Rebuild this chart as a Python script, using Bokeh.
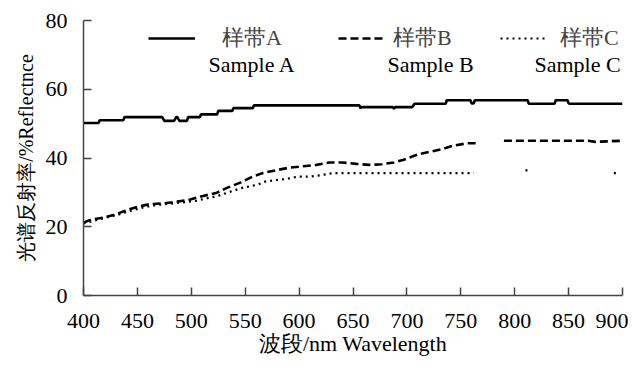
from bokeh.plotting import figure
from bokeh.models import Legend, LegendItem, Label, FixedTicker
from bokeh.embed import file_html
from bokeh.resources import INLINE

nan = float("nan")

# Sample A (solid)
wl_a = [400, 414, 415, 437, 438, 473, 475, 484, 486, 487, 489, 490, 496, 497,
        508, 509, 524, 525, 538, 539, 557, 558, 656, 657, 658, 687, 688, 689,
        705, 707, 736, 737, 759, 760, 762, 763, 812, 813, 837, 838, 849, 850,
        851, 900]
ref_a = [50.2, 50.2, 51.0, 51.0, 51.9, 51.9, 50.8, 50.8, 51.9, 51.9, 50.8, 50.8,
         50.8, 51.9, 51.9, 52.7, 52.7, 53.7, 53.7, 54.5, 54.5, 55.3, 55.3, 54.5,
         54.8, 54.8, 54.3, 54.8, 54.8, 55.8, 55.8, 56.8, 56.8, 55.9, 55.9, 56.8,
         56.8, 55.8, 55.8, 56.8, 56.8, 55.9, 55.8, 55.8]

# Sample B (dashed)
wl_b = [400, 407, 419, 428, 439, 450, 462, 474, 487, 499, 510, 523, 533, 546,
        557, 566, 578, 591, 604, 616, 628, 640, 653, 665, 677, 688, 697, 711,
        721, 732, 742, 756, 766, nan, 790, 868, 875, 898]
ref_b = [21.2, 22.1, 22.7, 23.4, 24.7, 25.8, 26.6, 26.8, 27.3, 27.9, 28.9, 29.8,
         31.3, 32.9, 34.6, 35.6, 36.4, 37.2, 37.6, 38.0, 38.7, 38.7, 38.3, 38.0,
         38.2, 38.7, 39.5, 41.1, 41.8, 42.5, 43.5, 44.3, 44.3, nan, 45.0, 45.0,
         44.7, 45.0]

# Sample C (dotted)
wl_c = [400, 410, 420, 432, 443, 455, 467, 480, 492, 505, 516, 524, 539, 547,
        561, 569, 588, 599, 610, 620, 631, 637, 657, 700, 731, 762, nan, 810,
        814, nan, 892, 896]
ref_c = [21.0, 21.8, 22.6, 23.5, 24.6, 25.6, 26.3, 26.7, 27.1, 27.6, 28.4, 28.9,
         30.5, 31.3, 32.2, 33.2, 33.9, 34.6, 34.6, 35.0, 35.6, 35.6, 35.6, 35.6,
         35.6, 35.6, nan, 36.4, 36.4, nan, 35.6, 35.6]

x_ticks = [400, 450, 500, 550, 600, 650, 700, 750, 800, 850, 900]
y_ticks = [0, 20, 40, 60, 80]

names_cn = ["样带A", "样带B", "样带C"]
names_en = ["Sample A", "Sample B", "Sample C"]

FONT = "Liberation Serif"

p = figure(width=628, height=358, output_backend="svg", toolbar_location=None,
           x_range=(400, 900), y_range=(0, 80),
           min_border_left=83, min_border_right=6, min_border_top=20,
           min_border_bottom=62)
p.outline_line_color = None
p.xgrid.visible = False
p.ygrid.visible = False
p.background_fill_color = "white"

ra = p.line(wl_a, ref_a, line_color="black", line_width=2.6)
rb = p.line(wl_b, ref_b, line_color="black", line_width=2.6, line_dash="8 4")
rc = p.line(wl_c, ref_c, line_color="black", line_width=2.2, line_dash="2 4")

for ax in (p.xaxis[0], p.yaxis[0]):
    ax.axis_line_color = "#444444"
    ax.axis_line_width = 1.5
    ax.major_tick_line_color = "#444444"
    ax.major_tick_line_width = 1.5
    ax.major_tick_in = 8
    ax.major_tick_out = 0
    ax.minor_tick_line_color = None
    ax.major_label_text_font = FONT
    ax.major_label_text_font_size = "22px"
    ax.major_label_text_color = "black"
    ax.axis_label_text_font = FONT
    ax.axis_label_text_font_style = "normal"
    ax.axis_label_text_color = "black"

p.xaxis.axis_label_text_font_size = "22px"
p.yaxis.axis_label_text_font_size = "20px"
p.xaxis.ticker = FixedTicker(ticks=x_ticks)
p.yaxis.ticker = FixedTicker(ticks=y_ticks)
p.xaxis.major_label_standoff = 18
p.yaxis.major_label_standoff = 16
p.xaxis.axis_label = "波段/nm Wavelength"
p.yaxis.axis_label = "光谱反射率/%Reflectnce"
p.xaxis.axis_label_standoff = 0
p.yaxis.axis_label_standoff = 6

legend_specs = [
    (ra, names_cn[0], 65, 47, 27),
    (rb, names_cn[1], 255, 47, 8),
    (rc, names_cn[2], 417, 45, 15),
]
for r, lab, lx, gw, so in legend_specs:
    leg = Legend(items=[LegendItem(label=lab, renderers=[r])], location=(lx, 242),
                 orientation="horizontal", glyph_width=gw, glyph_height=20,
                 label_standoff=so, padding=0, margin=0, spacing=0,
                 border_line_alpha=0, background_fill_alpha=0,
                 label_text_font=FONT, label_text_font_size="22px",
                 label_height=20)
    p.add_layout(leg)

for lab, lx in zip(names_en, [125, 304, 451]):
    p.add_layout(Label(x=lx, y=231, x_units="screen", y_units="screen", text=lab,
                       text_baseline="middle", text_font=FONT,
                       text_font_size="22px", text_color="black"))

open("out.html", "w").write(file_html(p, INLINE))
